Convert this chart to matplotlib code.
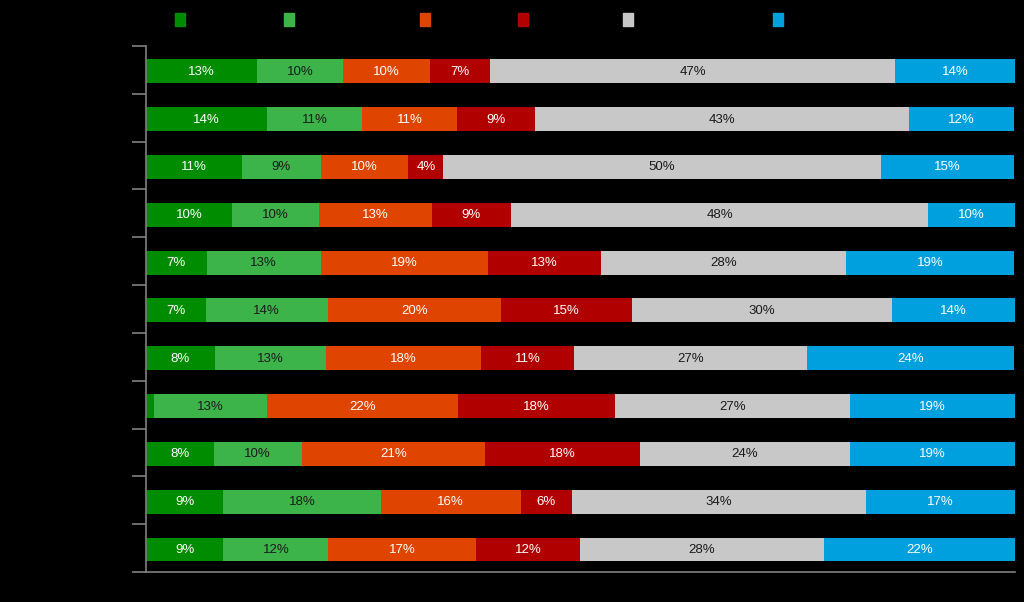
import matplotlib.pyplot as plt
from matplotlib.patches import Rectangle
import numpy as np

plt.rcParams['font.family'] = ['Liberation Sans', 'DejaVu Sans']

# shares per row, top to bottom (percent)
dark_green = [12.8, 13.9, 11.0, 9.9, 7.0, 6.9, 7.9, 0.9, 7.8, 8.9, 8.9]
light_green = [9.9, 11.0, 9.1, 10.0, 13.1, 14.0, 12.8, 13.0, 10.1, 18.1, 12.1]
orange = [10.0, 10.9, 10.1, 13.0, 19.2, 20.0, 17.8, 22.0, 21.1, 16.1, 17.0]
red = [6.9, 9.0, 4.0, 9.1, 13.1, 15.0, 10.8, 18.1, 17.8, 5.9, 11.9]
gray = [46.6, 43.0, 50.4, 48.0, 28.2, 29.9, 26.8, 27.0, 24.2, 33.9, 28.1]
blue = [13.9, 12.1, 15.3, 10.0, 19.3, 14.2, 23.8, 19.0, 19.0, 17.1, 22.1]

series = [dark_green, light_green, orange, red, gray, blue]
colors = ['#008c00', '#3cb44a', '#df4400', '#b10000', '#c8c8c8', '#00a0df']
text_colors = ['white', '#1a1a1a', 'white', 'white', '#1a1a1a', 'white']

fig = plt.figure(figsize=(10.24, 6.02), dpi=100, facecolor='black')
ax = fig.add_axes([146 / 1024, 30 / 602, 869 / 1024, 526 / 602])
ax.set_facecolor('black')

y = np.arange(len(dark_green))
left = np.zeros(len(y))
for vals, c, tc in zip(series, colors, text_colors):
    vals = np.array(vals)
    ax.barh(y + 0.03, vals, left=left, height=0.5, color=c, edgecolor='none')
    for yi, l, v in zip(y, left, vals):
        if v >= 2:
            ax.text(l + v / 2, yi + 0.04, f"{round(v):.0f}%", ha='center', va='center',
                    color=tc, fontsize=9.5)
    left += vals

ax.set_xlim(0, 100)
ax.set_ylim(len(y) - 0.5, -0.5)
ax.set_xticks([])
ax.set_yticks(np.arange(-0.5, len(y), 1))
ax.set_yticklabels([])
ax.tick_params(axis='y', direction='out', length=10, color='#808080', width=1.2)
for s in ['top', 'right']:
    ax.spines[s].set_visible(False)
for s in ['left', 'bottom']:
    ax.spines[s].set_color('#808080')
    ax.spines[s].set_linewidth(1.2)

# legend swatches
legend_x = [175, 284, 420, 518, 623, 773]
for lx, c in zip(legend_x, colors):
    fig.patches.append(Rectangle((lx / 1024, (602 - 26) / 602), 10 / 1024, 13 / 602,
                                 transform=fig.transFigure, color=c))

fig.savefig('out.png', dpi=100, facecolor='black')
